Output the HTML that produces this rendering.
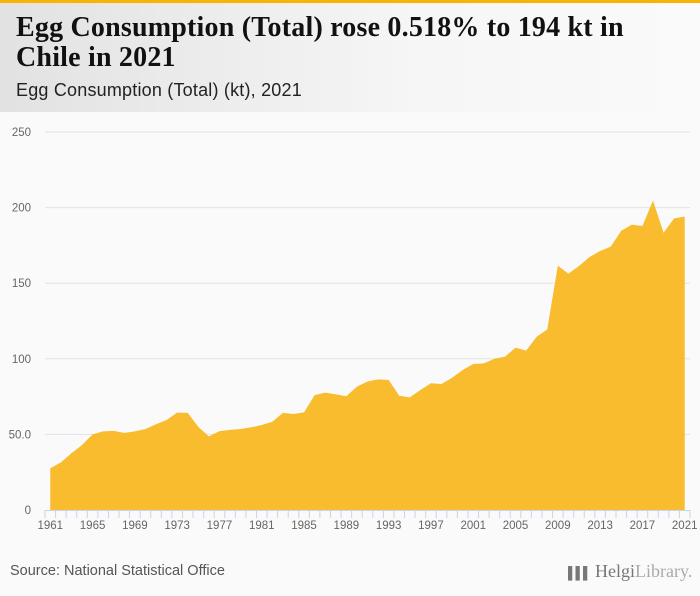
<!DOCTYPE html>
<html><head><meta charset="utf-8"><style>
html,body{margin:0;width:700px;height:596px;overflow:hidden}
body{background:#fafafa;font-family:"Liberation Sans",sans-serif;position:relative}
#hdr{position:absolute;left:0;top:0;width:700px;height:112px;background:linear-gradient(90deg,#e2e2e2,#f6f6f6 60%,#fafafa)}
#bar{position:absolute;left:0;top:0;width:700px;height:3px;background:#f7b500}
#title{position:absolute;left:16px;top:13px;font-family:"Liberation Serif",serif;font-weight:bold;font-size:28px;letter-spacing:0.2px;line-height:30px;color:#111;white-space:nowrap}
#sub{position:absolute;left:16px;top:80px;font-size:18px;letter-spacing:0.2px;color:#222;white-space:nowrap}
#src{position:absolute;left:10px;top:563px;font-size:14.5px;color:#555;white-space:nowrap}
#logo{position:absolute;left:568px;top:561px;font-family:"Liberation Serif",serif;font-size:18px;color:#777;white-space:nowrap}
</style></head><body>
<div id="hdr"></div>
<div id="bar"></div>
<div id="title">Egg Consumption (Total) rose 0.518% to 194 kt in<br>Chile in 2021</div>
<div id="sub">Egg Consumption (Total) (kt), 2021</div>
<svg id="chart" width="700" height="596" style="position:absolute;left:0;top:0"></svg>
<div id="src">Source: National Statistical Office</div>
<div id="logo"><span style="font-size:12px;letter-spacing:-1px">▌▌▌</span> Helgi<span style="color:#aaa">Library.</span></div>
<script>
const years=[];for(let y=1961;y<=2021;y++)years.push(y);
const values=[27.6,31.5,37.5,43,50,52,52.3,51,52,53.6,56.7,59.5,64.4,64.2,55,48.7,52.2,53,53.6,54.7,56.2,58.4,64.2,63.5,64.6,76,77.6,76.5,75.2,81.6,85,86.4,86,75.6,74.5,79.4,83.8,83.3,87.5,92.6,96.6,97,100,101.4,107.4,105.4,114.6,119.5,161.6,156.3,161.4,167.3,171.3,174.2,184.7,188.7,187.8,204.6,183.4,192.9,194];
const yTicks=[0,50,100,150,200,250];
const yTickLabels=["0","50.0","100","150","200","250"];
const xLabelYears=[1961,1965,1969,1973,1977,1981,1985,1989,1993,1997,2001,2005,2009,2013,2017,2021];
const svg=document.getElementById('chart');const NS='http://www.w3.org/2000/svg';
const L=45,R=690,T=132,B=510,YMAX=250;
const bw=(R-L)/years.length;
const xs=i=>L+bw/2+i*bw;
const ys=v=>B-(v/YMAX)*(B-T);
function mk(t,a){const e=document.createElementNS(NS,t);for(const k in a)e.setAttribute(k,a[k]);svg.appendChild(e);return e;}
yTicks.forEach((v,i)=>{
 if(v>0){const g=mk('line',{x1:L,x2:R,y1:ys(v),y2:ys(v),stroke:'#e3e3e3','stroke-width':1});
 
 }
 const t=mk('text',{x:31,y:ys(v)+4,'text-anchor':'end','font-size':11.5,fill:'#666','font-family':'Liberation Sans'});
 t.textContent=yTickLabels[i];
 
 
});
let d='M'+xs(0)+','+B;
values.forEach((v,i)=>{d+=' L'+xs(i)+','+ys(v);});
d+=' L'+xs(values.length-1)+','+B+' Z';
const area=mk('path',{d:d,fill:'#f9bc2f'});


const ax=mk('line',{x1:L,x2:R,y1:B+0.5,y2:B+0.5,stroke:'#c8d4ea','stroke-width':1});


for(let i=0;i<=years.length;i++){const tk=mk('line',{x1:L+i*bw,x2:L+i*bw,y1:B,y2:B+8,stroke:'#c8d4ea','stroke-width':1});
 
 }
xLabelYears.forEach(y=>{const i=years.indexOf(y);
 const t=mk('text',{x:xs(i),y:B+19,'text-anchor':'middle','font-size':11.5,fill:'#666','font-family':'Liberation Sans'});
 t.textContent=y;
 
 });
</script>
</body></html>
